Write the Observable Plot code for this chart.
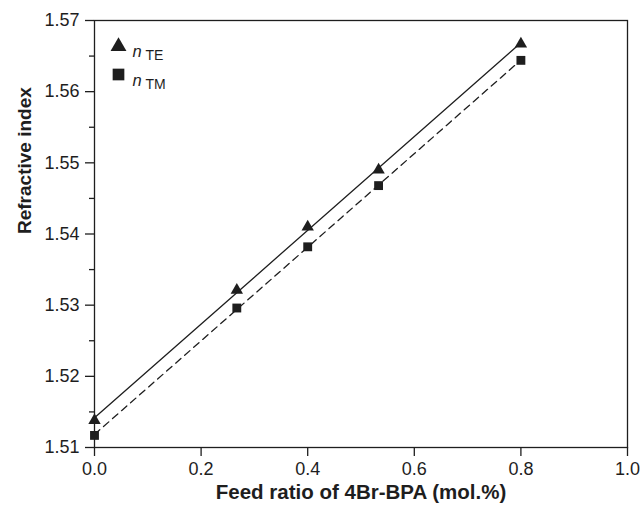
<!DOCTYPE html>
<html>
<head>
<meta charset="utf-8">
<script src="https://cdn.jsdelivr.net/npm/d3@7"></script>
<script src="https://cdn.jsdelivr.net/npm/@observablehq/plot@0.6"></script>
<style>
  html, body { margin: 0; padding: 0; background: #fff; }
</style>
</head>
<body>
<div id="chart"></div>
<script>
// Data
const feedRatio = [0, 0.267, 0.4, 0.533, 0.8];
const nTE = [1.5138, 1.5321, 1.541, 1.549, 1.5667];
const nTM = [1.5117, 1.5296, 1.5382, 1.5468, 1.5644];
const xTicks = [0, 0.2, 0.4, 0.6, 0.8, 1.0];
const yTicks = [1.51, 1.52, 1.53, 1.54, 1.55, 1.56, 1.57];
const yMinorTicks = [1.515, 1.525, 1.535, 1.545, 1.555, 1.565];
const xTitle = "Feed ratio of 4Br-BPA (mol.%)";
const yTitle = "Refractive index";
const legendSymbol = "n";
const legendSub = ["TE", "TM"];

const te = feedRatio.map((x, i) => ({x, y: nTE[i]}));
const tm = feedRatio.map((x, i) => ({x, y: nTM[i]}));

const ink = "#1e1e1e";
const font = "'Liberation Sans', Arial, Helvetica, sans-serif";

const chart = Plot.plot({
  width: 643,
  height: 512,
  marginLeft: 94,
  marginRight: 16,
  marginTop: 20,
  marginBottom: 65,
  style: {fontFamily: font, fontSize: "18px", color: ink, background: "#fff"},
  x: {domain: [0, 1]},
  y: {domain: [1.51, 1.57]},
  marks: [
    Plot.frame({stroke: ink, strokeWidth: 1.3}),
    Plot.axisX(xTicks, {tickSize: 9, tickPadding: 6, tickFormat: d3.format(".1f"), label: null, stroke: ink, strokeWidth: 1.3, fontSize: 18}),
    Plot.axisY(yTicks, {tickSize: 9, tickPadding: 6, tickFormat: d3.format(".2f"), label: null, stroke: ink, strokeWidth: 1.3, fontSize: 18}),
    Plot.axisY(yMinorTicks, {tickSize: 5, fill: "none", label: null, stroke: ink, strokeWidth: 1.3}),
    Plot.linearRegressionY(te, {x: "x", y: "y", ci: 0, stroke: ink, strokeWidth: 1.3}),
    Plot.linearRegressionY(tm, {x: "x", y: "y", ci: 0, stroke: ink, strokeWidth: 1.3, strokeDasharray: "7,5"}),
    Plot.dot(te, {x: "x", y: "y", symbol: "triangle", r: 4.6, fill: ink, stroke: "none"}),
    Plot.dot(tm, {x: "x", y: "y", symbol: "square", r: 5, fill: ink, stroke: "none"}),
    // legend
    Plot.dot([legendSub[0]], {frameAnchor: "top-left", dx: 24, dy: 26, symbol: "triangle", r: 5.9, fill: ink, stroke: "none"}),
    Plot.dot([legendSub[1]], {frameAnchor: "top-left", dx: 24, dy: 54, symbol: "square", r: 6.6, fill: ink, stroke: "none"}),
    Plot.text([legendSymbol], {text: d => d, frameAnchor: "top-left", dx: 38, dy: 25, textAnchor: "start", fontStyle: "italic", fontSize: 16.5, fill: ink}),
    Plot.text([legendSub[0]], {text: d => d, frameAnchor: "top-left", dx: 51, dy: 30, textAnchor: "start", fontSize: 14, fill: ink}),
    Plot.text([legendSymbol], {text: d => d, frameAnchor: "top-left", dx: 38, dy: 53.5, textAnchor: "start", fontStyle: "italic", fontSize: 16.5, fill: ink}),
    Plot.text([legendSub[1]], {text: d => d, frameAnchor: "top-left", dx: 51, dy: 58.5, textAnchor: "start", fontSize: 14, fill: ink}),
    // titles
    Plot.text([xTitle], {text: d => d, frameAnchor: "bottom", dy: 51, fontWeight: "bold", fontSize: 20.5, fill: ink}),
    Plot.text([yTitle], {text: d => d, frameAnchor: "left", dx: -70, rotate: -90, fontWeight: "bold", fontSize: 19, fill: ink})
  ]
});
document.getElementById("chart").append(chart);
</script>
</body>
</html>
